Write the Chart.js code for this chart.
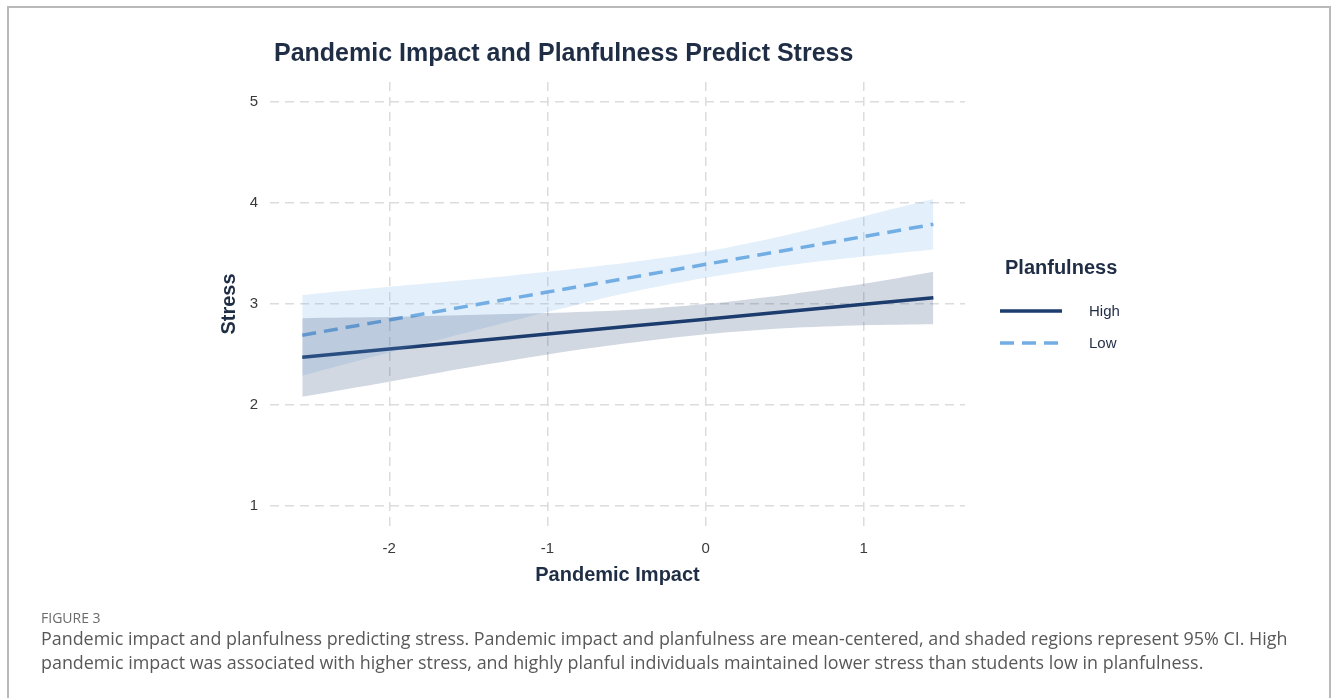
<!DOCTYPE html>
<html>
<head>
<meta charset="utf-8">
<script src="https://cdn.jsdelivr.net/npm/chart.js@4.4.1/dist/chart.umd.min.js"></script>
<style>
  html, body { margin: 0; padding: 0; background: #fff; }
  body { width: 1331px; height: 698px; position: relative; overflow: hidden; }
  #frame { position: absolute; left: 7px; top: 6px; width: 1324px; height: 720px;
           border: 2px solid #b9b9b9; border-bottom: none; box-sizing: border-box; }
  #wrap { position: absolute; left: 0; top: 0; width: 1331px; height: 698px; }
  #title { position: absolute; left: 274px; top: 38px; font: bold 25px "Liberation Sans", Arial, sans-serif;
           color: #1f2d45; white-space: nowrap; }
  #figlabel { position: absolute; left: 41px; top: 608px; font: 14px "Open Sans", Lato, sans-serif;
              color: #6b6b6b; }
  #caption { position: absolute; left: 41px; top: 626px; font: 17.9px "Open Sans", Lato, sans-serif;
             color: #585858; line-height: 24px; white-space: nowrap; }
</style>
</head>
<body>
<div id="frame"></div>
<div id="wrap"><canvas id="c" width="1331" height="698"></canvas></div>
<div id="title">Pandemic Impact and Planfulness Predict Stress</div>
<div id="figlabel">FIGURE 3</div>
<div id="caption">Pandemic impact and planfulness predicting stress. Pandemic impact and planfulness are mean-centered, and shaded regions represent 95% CI. High<br>pandemic impact was associated with higher stress, and highly planful individuals maintained lower stress than students low in planfulness.</div>
<script>
// Pandemic impact (mean-centered) at which the fitted lines and 95% CI bands are shown
const impact = [-2.55, -2, -1.5, -1, -0.5, 0, 0.5, 1, 1.44];

// High planfulness: fitted stress and CI bounds
const highFit   = [2.473, 2.554, 2.628, 2.702, 2.776, 2.850, 2.924, 2.998, 3.063];
const highUpper = [2.86, 2.87, 2.89, 2.91, 2.94, 3.00, 3.09, 3.20, 3.32];
const highLower = [2.08, 2.23, 2.37, 2.50, 2.61, 2.70, 2.76, 2.79, 2.80];

// Low planfulness: fitted stress and CI bounds
const lowFit   = [2.691, 2.842, 2.980, 3.118, 3.255, 3.393, 3.531, 3.668, 3.790];
const lowUpper = [3.09, 3.17, 3.24, 3.32, 3.41, 3.52, 3.68, 3.87, 4.04];
const lowLower = [2.29, 2.52, 2.72, 2.92, 3.11, 3.26, 3.38, 3.47, 3.54];

const xTicks = [-2, -1, 0, 1];
const yTicks = [1, 2, 3, 4, 5];
const groups = ['High', 'Low'];

const navy = '#1c3d6e';
const sky = '#72aee4';
const ink = '#1f2d45';
const tickInk = '#3a3a3a';
const font = '"Liberation Sans", Arial, sans-serif';

const pts = ys => impact.map((x, i) => ({ x, y: ys[i] }));

const band = (ys, color, fill) => ({
  data: pts(ys), borderWidth: 0, pointRadius: 0, tension: 0.3,
  backgroundColor: color, fill: fill, isBand: true
});

const datasets = [
  band(highUpper, 'rgba(28,61,110,0.2)', '+1'),
  band(highLower, 'rgba(28,61,110,0.2)', false),
  band(lowUpper, 'rgba(114,174,228,0.2)', '+1'),
  band(lowLower, 'rgba(114,174,228,0.2)', false),
  { label: groups[0], data: pts(highFit), borderColor: navy, borderWidth: 3.5,
    pointRadius: 0, fill: false, borderCapStyle: 'butt' },
  { label: groups[1], data: pts(lowFit), borderColor: sky, borderWidth: 3.5,
    borderDash: [14, 8], pointRadius: 0, fill: false, borderCapStyle: 'butt' }
];

// Legend for the two planfulness groups, drawn to the right of the plot
const groupLegend = {
  id: 'groupLegend',
  afterDraw(chart) {
    const ctx = chart.ctx;
    ctx.save();
    ctx.fillStyle = ink;
    ctx.font = 'bold 20px ' + font;
    ctx.textBaseline = 'middle';
    ctx.textAlign = 'left';
    ctx.fillText('Planfulness', 1005, 268);
    const lines = chart.data.datasets.filter(d => !d.isBand);
    lines.forEach((d, i) => {
      const y = 311 + i * 32;
      ctx.beginPath();
      ctx.strokeStyle = d.borderColor;
      ctx.lineWidth = d.borderWidth;
      ctx.lineCap = 'butt';
      ctx.setLineDash(d.borderDash || []);
      ctx.moveTo(1000, y);
      ctx.lineTo(1062, y);
      ctx.stroke();
      ctx.setLineDash([]);
      ctx.fillStyle = ink;
      ctx.font = '15px ' + font;
      ctx.fillText(d.label, 1089, y + 1);
    });
    ctx.restore();
  }
};

new Chart(document.getElementById('c'), {
  type: 'line',
  data: { datasets },
  options: {
    responsive: false,
    animation: false,
    layout: { padding: { left: 200, right: 366, top: 82, bottom: 102 } },
    plugins: { legend: { display: false }, tooltip: { enabled: false } },
    scales: {
      x: {
        type: 'linear', min: -2.754, max: 1.64,
        afterBuildTicks: s => { s.ticks = xTicks.map(v => ({ value: v })); },
        afterFit: s => { s.height = 70; },
        grid: { color: '#dcdcdc', lineWidth: 1.5, drawTicks: false },
        border: { display: false, dash: [9, 6] },
        ticks: { color: tickInk, font: { family: font, size: 15 }, padding: 14 },
        title: { display: true, text: 'Pandemic Impact', color: ink,
                 font: { family: font, size: 20, weight: 'bold' }, padding: { top: 0, bottom: 9 } }
      },
      y: {
        type: 'linear', min: 0.8, max: 5.2,
        afterBuildTicks: s => { s.ticks = yTicks.map(v => ({ value: v })); },
        afterFit: s => { s.width = 70; },
        grid: { color: '#dcdcdc', lineWidth: 1.5, drawTicks: false },
        border: { display: false, dash: [9, 6] },
        ticks: { color: tickInk, font: { family: font, size: 15 }, padding: 12 },
        title: { display: true, text: 'Stress', color: ink,
                 font: { family: font, size: 20, weight: 'bold' }, padding: { top: 17, bottom: 0 } }
      }
    }
  },
  plugins: [groupLegend]
});
</script>
</body>
</html>
